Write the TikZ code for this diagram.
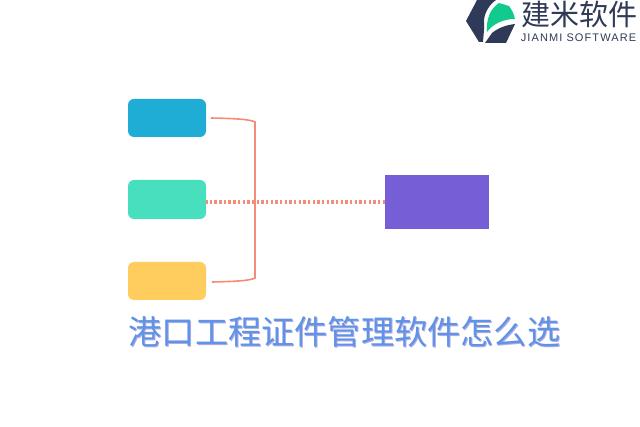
\documentclass[tikz,border=0pt]{standalone}
\usepackage{fontspec}
\newfontfamily\cjk{Noto Sans CJK SC}
\newfontfamily\latn[LetterSpace=10]{Liberation Sans}
\definecolor{cblue}{HTML}{1FACD5}
\definecolor{cteal}{HTML}{48DFBF}
\definecolor{cyell}{HTML}{FFCC5E}
\definecolor{cpurp}{HTML}{765FD6}
\definecolor{cline}{HTML}{F58C75}
\definecolor{ctitle}{HTML}{5F93E6}
\definecolor{cshadow}{HTML}{B4ABE4}
\definecolor{cdark}{HTML}{2F3A58}
\definecolor{cgreen}{HTML}{12C98E}
\tikzset{
  x=1pt,y=-1pt,
  smallbox/.style={rounded corners=6pt,minimum width=78pt,inner sep=0pt,outer sep=0pt,anchor=north west},
  bracket/.style={cline,line width=1.6pt},
  dotline/.style={cline,line width=3.4pt,dash pattern=on 2.4pt off 2.27pt},
}
\begin{document}
\begin{tikzpicture}
\useasboundingbox (0,0) rectangle (640,427);
\node[smallbox,fill=cblue,minimum height=38pt] (a) at (128,99) {};
\node[smallbox,fill=cteal,minimum height=39pt] (b) at (128,180) {};
\node[smallbox,fill=cyell,minimum height=38pt] (c) at (128,262) {};
\node[fill=cpurp,minimum width=104pt,minimum height=54pt,inner sep=0pt,outer sep=0pt,anchor=north west] (d) at (385,175) {};
\coordinate (t1) at (211,118);
\coordinate (t2) at (212,282);
\coordinate (j1) at (255,122);
\coordinate (j2) at (255,278);
\draw[bracket] (t1) .. controls (230,118.4) and (250,119) .. (j1) -- (j2) .. controls (250,281) and (230,281.6) .. (t2);
\draw[dotline] (d.west |- 0,202) -- (b.east |- 0,202);
% title
\node[cshadow,font=\cjk\fontsize{33.2}{33.2}\selectfont,inner sep=0,anchor=center] (ts) at (345.5,332.5) {港口工程证件管理软件怎么选};
\node[ctitle,font=\cjk\fontsize{33.2}{33.2}\selectfont,inner sep=0,anchor=center] (tt) at (344.5,331.5) {港口工程证件管理软件怎么选};
% logo
\fill[cdark] (477,0) -- (496,0) .. controls (489,5) and (485,12) .. (484,20) -- (484,30) -- (483,42) -- (479,42) -- (466,21) -- cycle;
\fill[cgreen] (487,32) .. controls (486,18) and (491,8) .. (499,3) -- (509,6) .. controls (512,10) and (514,14) .. (515,19) .. controls (503,19) and (493,24) .. (487,32) -- cycle;
\fill[cdark] (515,24) -- (506,43) -- (485,43) -- (492,33) .. controls (498,28) and (506,25) .. (515,24) -- cycle;
\node[cdark,font=\cjk\fontsize{29}{29}\selectfont,inner sep=0,anchor=center] (lg) at (579,14) {建米软件};
\node[cdark,font=\latn\fontsize{11}{11}\selectfont,inner sep=0,anchor=center] (ls) at (578.5,38) {JIANMI SOFTWARE};
\end{tikzpicture}
\end{document}
